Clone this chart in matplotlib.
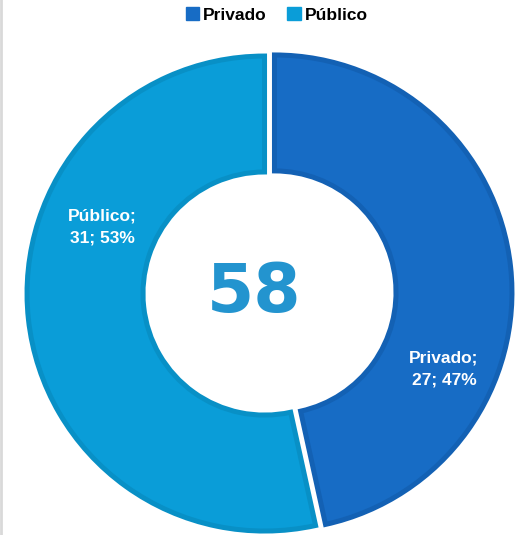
import matplotlib
matplotlib.use("Agg")
import matplotlib.pyplot as plt
from matplotlib.patches import Patch
from matplotlib.lines import Line2D

categories = ["Privado", "Público"]
values = [27, 31]
total_label = "58"

face_colors = ["#176CC5", "#0A9DD8"]
edge_colors = ["#1361B4", "#0890C6"]

W, H = 521, 535
R = 240.0
cx, cy = 269.5, 293.0  # pixels from left/top
band = 5.0  # px, darker inner border
explode_px = 5.0

fig = plt.figure(figsize=(W / 100, H / 100), dpi=100)
ax = fig.add_axes([0, 0, 1, 1])

total = sum(values)
lw_pt = band * 72 / 100
wedges, _ = ax.pie(values, startangle=90, counterclock=False,
                   colors=face_colors,
                   explode=[explode_px / R] * len(values),
                   radius=1.0 - (band / 2) / R,
                   wedgeprops=dict(width=0.504 - band / R, linewidth=lw_pt,
                                   joinstyle="miter"))
for w, ec in zip(wedges, edge_colors):
    w.set_edgecolor(ec)

ax.set_xlim(-cx / R, (W - cx) / R)
ax.set_ylim(-(H - cy) / R, cy / R)
ax.set_aspect("equal")
ax.axis("off")

font = "Liberation Sans"
# data labels
label_pos = [((444 - cx) / R, (cy - 369) / R), ((102.5 - cx) / R, (cy - 227) / R)]
for cat, v, (x, y) in zip(categories, values, label_pos):
    pct = round(100 * v / total)
    ax.text(x, y, f"{cat};\n{v}; {pct}%", ha="center", va="center",
            color="white", fontsize=12.5, fontweight="bold", family=font,
            linespacing=1.55)

# center total
ax.text((254 - cx) / R, (cy - 293) / R, total_label, ha="center", va="center",
        color="#2394CF", fontsize=49, fontweight="bold", family="DejaVu Sans")

# legend
handles = [Patch(facecolor=c, edgecolor=c) for c in face_colors]
leg = fig.legend(handles, categories, loc="upper center", bbox_to_anchor=(0.531, 1.016),
                 ncol=2, frameon=False, handlelength=0.8, handleheight=0.8,
                 handletextpad=0.2, columnspacing=1.2,
                 prop=dict(family=font, weight="bold", size=12.5))

# left border line
fig.add_artist(Line2D([0.002, 0.002], [0, 1], transform=fig.transFigure,
                      color="#D9D9D9", linewidth=2))

fig.savefig("out.png", dpi=100, facecolor="white")
